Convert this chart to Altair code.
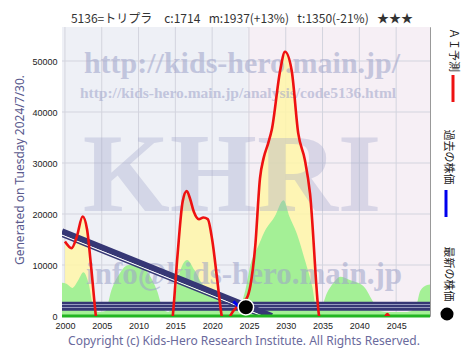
import altair as alt
import pandas as pd

# ---------------- data ----------------
red_years = [2000, 2000.9, 2001.6, 2002.4, 2003.0, 2003.6, 2004.2, 2005.0, 2009.5, 2014.0,
             2014.65, 2015.3, 2016.0, 2016.55, 2017.0, 2017.5, 2018.2, 2018.8, 2019.4, 2020.0,
             2020.7, 2021.3, 2021.8, 2022.45, 2023.5, 2024.7, 2025.2, 2025.85, 2026.5, 2027.0,
             2027.6, 2028.1, 2029.25, 2029.9, 2030.8, 2031.7, 2032.6, 2033.3, 2034.5, 2035.5,
             2038.5, 2042.5, 2043.4, 2043.8, 2044.2, 2046.0, 2049.6]
red_values = [14600, 13300, 15500, 19500, 17000, 9000, 0, -8000, -15000, -6000,
              0, 12000, 22500, 24500, 23000, 20500, 19000, 19300, 19000, 15000,
              7000, 0, -2500, 0, 2000, 3500, 6000, 13600, 27000, 31000,
              33800, 36500, 48200, 51800, 48200, 35800, 30600, 24000, 300, -5000,
              -10000, -4000, -500, 400, -500, -8000, -15000]

green_years = [1999.6, 2000.2, 2001.0, 2001.8, 2002.5, 2003.2, 2003.9, 2004.5, 2005.5, 2006.3,
               2007.5, 2008.6, 2010.2, 2011.5, 2012.5, 2013.3, 2014.0, 2014.7, 2015.5, 2016.6,
               2017.6, 2018.8, 2020.2, 2021.5, 2022.5, 2023.5, 2024.5, 2025.2, 2026.3, 2027.0,
               2028.5, 2029.7, 2030.5, 2031.5, 2032.6, 2033.6, 2034.2, 2034.9, 2035.6, 2036.5,
               2037.4, 2038.8, 2040.6, 2042.0, 2042.8, 2044.0, 2046.5, 2047.6, 2048.3, 2049.2,
               2049.6]
green_values = [6500, 6300, 5500, 7000, 8600, 6500, 1500, 800, 1000, 5000,
                8500, 10000, 10000, 8000, 5000, 1500, 800, 2000, 8000, 11000,
                9000, 6000, 5000, 3000, 1500, 1500, 5000, 10000, 13800, 16200,
                19500, 22700, 19500, 16200, 11000, 5800, 1500, 2000, 4500, 6500,
                7700, 7000, 5800, 2500, 1000, 800, 800, 1500, 5000, 6100,
                6200]

diag_years = [1999.6, 2028.1]
diag_values = [16600, 0]

blue_years = [2022.9, 2023.6]
blue_values = [2900, 1800]

latest_year = [2024.58]
latest_price = [1714]

hband_low = [1040]
hband_high = [2800]
hband_lines = [1670, 2250]

bg_start = [1999.6, 2024.85]
bg_end = [2024.85, 2049.6]
bg_color = ["#eef0f6", "#f6eff5"]

x_ticks = [2000, 2005, 2010, 2015, 2020, 2025, 2030, 2035, 2040, 2045]
y_ticks = [0, 10000, 20000, 30000, 40000, 50000]

GAP = "\u2002\u2009"
title_text = "5136=トリプラ\u3000c:1714" + GAP + "m:1937(+13%)" + GAP + "t:1350(-21%)" + GAP + "★★★"
generated_text = "Generated on Tuesday 2024/7/30."
copyright_text = "Copyright (c) Kids-Hero Research Institute. All Rights Reserved."
wm_url = "http://kids-hero.main.jp/"
wm_url2 = "http://kids-hero.main.jp/analysis/code5136.html"
wm_big = "KHRI"
wm_mail = "info@kids-hero.main.jp"
legend_labels = ["ＡＩ予測", "過去の株価", "最新の株価"]

# ---------------- frames ----------------
red_df = pd.DataFrame({"year": red_years, "v": red_values})
green_df = pd.DataFrame({"year": green_years, "v": green_values})
diag_df = pd.DataFrame({"year": diag_years, "v": diag_values})
blue_df = pd.DataFrame({"year": blue_years, "v": blue_values})
latest_df = pd.DataFrame({"year": latest_year, "v": latest_price})
band_df = pd.DataFrame({"lo": hband_low, "hi": hband_high})
bandline_df = pd.DataFrame({"v": hband_lines})
bg_df = pd.DataFrame({"s": bg_start, "e": bg_end, "c": bg_color})
xt_df = pd.DataFrame({"year": x_ticks})
yt_df = pd.DataFrame({"v": y_ticks})

W, H = 368, 289
xs = alt.Scale(domain=[1999.6, 2049.6], nice=False, zero=False)
ys = alt.Scale(domain=[0, 56667], nice=False, zero=False)

x_axis = alt.Axis(values=x_ticks, format="d", ticks=False, domain=False, grid=False,
                  labelFont="Liberation Sans", labelFontSize=9, labelColor="#222",
                  labelPadding=5, title=None)
y_axis = alt.Axis(values=y_ticks, format="d", ticks=False, domain=False, grid=False,
                  labelFont="Liberation Sans", labelFontSize=9, labelColor="#222",
                  labelPadding=5, title=None)


def txt(t):
    return alt.Chart(pd.DataFrame({"t": [t]}))


bg = alt.Chart(bg_df).mark_rect().encode(
    x=alt.X("s:Q", scale=xs, axis=x_axis, title=None),
    x2="e:Q",
    color=alt.Color("c:N", scale=None),
)

vgrid = alt.Chart(xt_df).mark_rule(color="#d3d4de", strokeWidth=1).encode(
    x=alt.X("year:Q", scale=xs, axis=x_axis, title=None),
)
hgrid = alt.Chart(yt_df).mark_rule(color="#d3d4de", strokeWidth=1).encode(
    y=alt.Y("v:Q", scale=ys, axis=y_axis, title=None),
)

yellow = alt.Chart(red_df).mark_area(color="#fff6a8", opacity=0.85, interpolate="monotone", clip=True).encode(
    x=alt.X("year:Q", scale=xs, title=None), y=alt.Y("v:Q", scale=ys, title=None), y2=alt.datum(0)
)
green = alt.Chart(green_df).mark_area(color="#a4f096", interpolate="monotone", clip=True).encode(
    x=alt.X("year:Q", scale=xs, title=None), y=alt.Y("v:Q", scale=ys, title=None), y2=alt.datum(0)
)

wm_color = "#9ea3c9"
wm1 = txt(wm_url).mark_text(font="Liberation Serif", fontWeight="bold", fontSize=30, color=wm_color,
                            opacity=0.55, align="center", baseline="alphabetic").encode(
    x=alt.value(180), y=alt.value(46), text="t:N")
wm2 = txt(wm_url2).mark_text(font="Liberation Serif", fontWeight="bold", fontSize=15.5, color=wm_color,
                             opacity=0.55, align="center", baseline="alphabetic").encode(
    x=alt.value(176), y=alt.value(71), text="t:N")
wm3 = txt(wm_big).mark_text(font="Liberation Serif", fontWeight="bold", fontSize=112, color=wm_color,
                            opacity=0.33, align="center", baseline="alphabetic").encode(
    x=alt.value(170), y=alt.value(184), text="t:N")
wm4 = txt(wm_mail).mark_text(font="Liberation Serif", fontWeight="bold", fontSize=31, color=wm_color,
                             opacity=0.55, align="center", baseline="alphabetic").encode(
    x=alt.value(182), y=alt.value(257), text="t:N")

navy = "#363775"
band = alt.Chart(band_df).mark_rect(color=navy).encode(
    y=alt.Y("lo:Q", scale=ys, title=None), y2="hi:Q"
)
bandlines = alt.Chart(bandline_df).mark_rule(color="#a3a8c8", strokeWidth=0.9).encode(
    y=alt.Y("v:Q", scale=ys, title=None)
)

diag_main = alt.Chart(diag_df).mark_line(color=navy, strokeWidth=6.2, clip=True).encode(
    x=alt.X("year:Q", scale=xs, title=None), y=alt.Y("v:Q", scale=ys, title=None)
)
diag_white = alt.Chart(diag_df).mark_line(color="#ffffff", strokeWidth=1, yOffset=3.8, clip=True).encode(
    x=alt.X("year:Q", scale=xs, title=None), y=alt.Y("v:Q", scale=ys, title=None)
)
diag_thin = alt.Chart(diag_df).mark_line(color=navy, strokeWidth=1.4, yOffset=5.1, clip=True).encode(
    x=alt.X("year:Q", scale=xs, title=None), y=alt.Y("v:Q", scale=ys, title=None)
)

baseline = alt.Chart(yt_df.head(1)).mark_rule(color="#22b522", strokeWidth=3).encode(
    y=alt.Y("v:Q", scale=ys, title=None)
)

red = alt.Chart(red_df).mark_line(color="#ee1111", strokeWidth=2.6, interpolate="monotone", clip=True).encode(
    x=alt.X("year:Q", scale=xs, title=None), y=alt.Y("v:Q", scale=ys, title=None)
)
blue = alt.Chart(blue_df).mark_line(color="#0000ee", strokeWidth=3, clip=True).encode(
    x=alt.X("year:Q", scale=xs, title=None), y=alt.Y("v:Q", scale=ys, title=None)
)
dot = alt.Chart(latest_df).mark_circle(color="black", opacity=1, size=240, stroke="white", strokeWidth=1.5).encode(
    x=alt.X("year:Q", scale=xs, title=None), y=alt.Y("v:Q", scale=ys, title=None)
)

title = txt(title_text).mark_text(font="Noto Sans CJK JP", fontSize=12, color="#333",
                                  align="center", baseline="middle").encode(
    x=alt.value(180), y=alt.value(-8), text="t:N")
gen = txt(generated_text).mark_text(font="Noto Sans", fontSize=12, color="#5a5a8e", angle=270,
                                    align="center", baseline="middle").encode(
    x=alt.value(-42), y=alt.value(143), text="t:N")
copy = txt(copyright_text).mark_text(font="Noto Sans", fontSize=12, color="#6a6a9c",
                                     align="center", baseline="middle").encode(
    x=alt.value(182), y=alt.value(314), text="t:N")

leg1 = txt(legend_labels[0]).mark_text(font="Noto Sans CJK JP", fontSize=11, color="#222", angle=90,
                                       align="center", baseline="middle").encode(
    x=alt.value(391), y=alt.value(23), text="t:N")
leg2 = txt(legend_labels[1]).mark_text(font="Noto Sans CJK JP", fontSize=11, color="#222", angle=90,
                                       align="center", baseline="middle").encode(
    x=alt.value(386), y=alt.value(130), text="t:N")
leg3 = txt(legend_labels[2]).mark_text(font="Noto Sans CJK JP", fontSize=11, color="#222", angle=90,
                                       align="center", baseline="middle").encode(
    x=alt.value(386), y=alt.value(247), text="t:N")
leg_red = txt("r").mark_rule(color="#ee1111", strokeWidth=3).encode(
    x=alt.value(391), y=alt.value(48), y2=alt.value(75))
leg_blue = txt("b").mark_rule(color="#0000ee", strokeWidth=3).encode(
    x=alt.value(384), y=alt.value(163), y2=alt.value(190))
leg_dot = txt("d").mark_circle(color="black", opacity=1, size=170).encode(
    x=alt.value(385), y=alt.value(287))

chart = alt.layer(
    bg, vgrid, hgrid, yellow, green, wm1, wm2, wm3, wm4,
    band, bandlines, diag_main, diag_white, diag_thin, baseline,
    red, blue, dot,
    title, gen, copy, leg1, leg2, leg3, leg_red, leg_blue, leg_dot,
).properties(
    width=W, height=H,
    autosize=alt.AutoSizeParams(type="none"),
    padding={"left": 62, "top": 27, "right": 44, "bottom": 39},
    background="white",
).configure_view(stroke="#999", strokeWidth=1)

chart.save("out.html", embed_options={"renderer": "svg", "actions": False})
